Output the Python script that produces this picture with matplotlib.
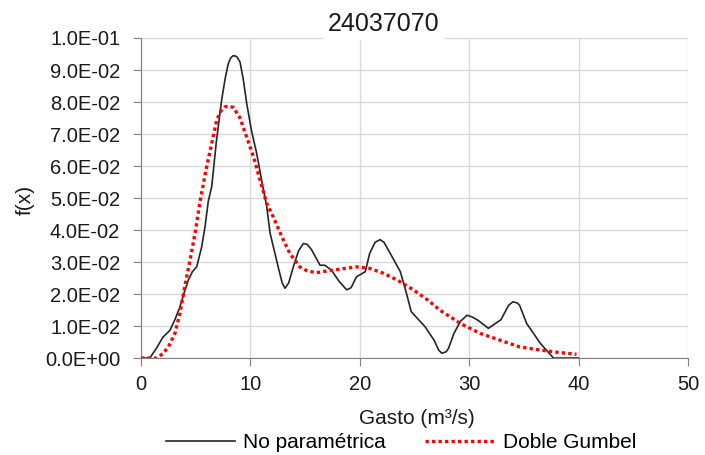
import matplotlib.pyplot as plt
from matplotlib.ticker import FuncFormatter, MultipleLocator

plt.rcParams["font.family"] = ["Liberation Sans", "DejaVu Sans"]

# --------------------------------------------------------------------------- #
# Data
# --------------------------------------------------------------------------- #
title = "24037070"

x_np = [0.0, 0.8, 1.4, 2.0, 2.65, 3.1, 3.56, 4.0, 4.33, 4.7, 5.09, 5.55, 5.85,
        6.15, 6.46, 6.9, 7.37, 7.7, 7.98, 8.2, 8.44, 8.75, 9.05, 9.35, 9.66,
        10.1, 10.57, 11.0, 11.49, 11.8, 12.5, 12.9, 13.16, 13.5, 13.92, 14.4,
        14.84, 15.2, 15.6, 16.36, 16.8, 17.4, 18.1, 18.8, 19.2, 19.7, 20.5,
        20.9, 21.4, 21.85, 22.2, 22.6, 23.7, 24.2, 24.7, 25.5, 25.96, 26.8,
        27.2, 27.5, 27.9, 28.1, 28.6, 29.2, 29.8, 30.3, 30.8, 31.75, 32.9,
        33.6, 34.0, 34.4, 34.6, 35.25, 36.5, 37.7, 40.0]
y_np = [0.0, 0.0, 0.003, 0.0065, 0.0087, 0.012, 0.016, 0.021, 0.0244, 0.027,
        0.0285, 0.0348, 0.041, 0.049, 0.0535, 0.068, 0.0806, 0.0875, 0.092,
        0.0938, 0.0945, 0.0942, 0.0925, 0.087, 0.0796, 0.071, 0.064, 0.056,
        0.0473, 0.039, 0.029, 0.0235, 0.0218, 0.0235, 0.0285, 0.0335, 0.0358,
        0.0355, 0.0338, 0.029, 0.029, 0.0275, 0.024, 0.0213, 0.022, 0.0254,
        0.027, 0.0327, 0.0362, 0.037, 0.0362, 0.0338, 0.027, 0.021, 0.0145,
        0.0115, 0.0098, 0.0055, 0.0025, 0.0015, 0.002, 0.003, 0.0077, 0.0115,
        0.0134, 0.0128, 0.0118, 0.0093, 0.012, 0.0165, 0.0176, 0.0172,
        0.0165, 0.0108, 0.0046, 0.0, 0.0]

x_dg = [0.0, 1.43, 2.04, 2.5, 3.1, 3.56, 4.0, 4.48, 4.94, 5.4, 6.0, 6.46, 6.92,
        7.3, 7.68, 8.05, 8.44, 9.05, 9.66, 10.27, 10.88, 11.49, 12.1, 12.86,
        13.6, 14.5, 15.2, 16.06, 17.58, 19.7, 20.93, 22.15, 23.4, 24.9, 26.26,
        27.3, 29.2, 31.0, 32.8, 34.6, 36.5, 38.3, 39.8]
y_dg = [0.0, 0.0, 0.0015, 0.0035, 0.0077, 0.014, 0.0223, 0.0306, 0.039, 0.049,
        0.0598, 0.067, 0.0744, 0.0772, 0.0785, 0.0787, 0.0783, 0.075, 0.069,
        0.063, 0.0556, 0.0483, 0.044, 0.038, 0.0327, 0.0285, 0.0272, 0.0267,
        0.0275, 0.0285, 0.028, 0.0265, 0.0244, 0.0213, 0.018, 0.015, 0.0108,
        0.0077, 0.0056, 0.0035, 0.0025, 0.0017, 0.0012]

series_labels = ["No paramétrica", "Doble Gumbel"]

# --------------------------------------------------------------------------- #
# Figure
# --------------------------------------------------------------------------- #
fig = plt.figure(figsize=(7.05, 4.55), dpi=100)
ax = fig.add_axes([0.2, 0.213, 0.776, 0.7035])

ax.plot(x_np, y_np, color="#262626", lw=1.2, label=series_labels[0], zorder=3)
ax.plot(x_dg, y_dg, color="#ff0000", lw=2.4, ls=(0, (1, 0.95)),
        label=series_labels[1], zorder=4)

ax.set_xlim(0, 50)
ax.set_ylim(0, 0.1)
ax.xaxis.set_major_locator(MultipleLocator(10))
ax.yaxis.set_major_locator(MultipleLocator(0.01))
ax.yaxis.set_major_formatter(FuncFormatter(lambda v, _: f"{v:.1E}"))

ax.grid(True, color="#d9d9d9", lw=1.0, zorder=0)
ax.set_axisbelow(True)
for side in ("top", "right"):
    ax.spines[side].set_visible(False)
for side in ("left", "bottom"):
    ax.spines[side].set_color("#808080")
ax.tick_params(axis="both", colors="#808080", length=6, labelsize=14.5,
               labelcolor="#1a1a1a")
ax.tick_params(axis="y", pad=9)
ax.tick_params(axis="x", pad=6)

# axis labels placed in figure pixels as in the reference
fig.text(417 / 705, 1 - 418 / 455, "Gasto (m³/s)", ha="center", va="center",
         fontsize=15, color="#1a1a1a")
fig.text(25 / 705, 1 - 200 / 455, "f(x)", ha="center", va="center",
         rotation=90, fontsize=15, color="#1a1a1a")

fig.text(384 / 705, 1 - 24 / 455, title, ha="center", va="center",
         fontsize=18, color="#1a1a1a",
         bbox=dict(facecolor="white", edgecolor="none", pad=3))

fig.legend(loc="center", bbox_to_anchor=(401 / 705, 1 - 443 / 455), ncol=2,
           frameon=False, fontsize=15, handlelength=3.3, columnspacing=1.9,
           handletextpad=0.4, borderpad=0, borderaxespad=0)

fig.savefig("out.png", dpi=100)
